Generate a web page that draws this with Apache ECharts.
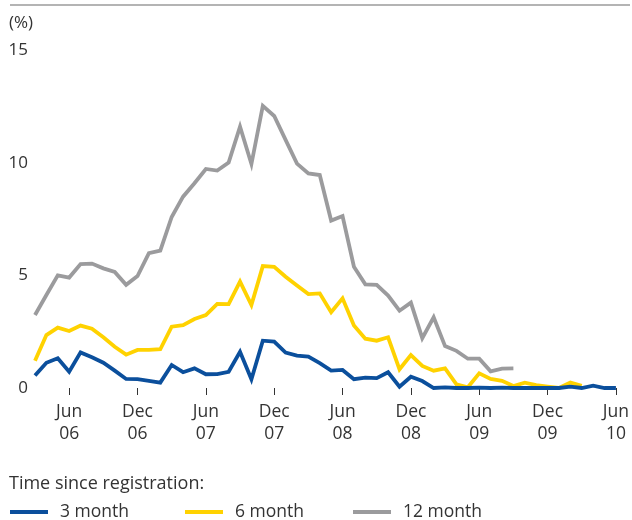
<!DOCTYPE html>
<html>
<head>
<meta charset="utf-8">
<script src="https://cdn.jsdelivr.net/npm/echarts@6/dist/echarts.min.js"></script>
<style>
html,body{margin:0;padding:0;background:#fff;}
#chart{width:632px;height:520px;}
</style>
</head>
<body>
<div id="chart"></div>
<script>
const months = [
  'Mar 06','Apr 06','May 06','Jun 06','Jul 06','Aug 06','Sep 06','Oct 06','Nov 06','Dec 06',
  'Jan 07','Feb 07','Mar 07','Apr 07','May 07','Jun 07','Jul 07','Aug 07','Sep 07','Oct 07','Nov 07','Dec 07',
  'Jan 08','Feb 08','Mar 08','Apr 08','May 08','Jun 08','Jul 08','Aug 08','Sep 08','Oct 08','Nov 08','Dec 08',
  'Jan 09','Feb 09','Mar 09','Apr 09','May 09','Jun 09','Jul 09','Aug 09','Sep 09','Oct 09','Nov 09','Dec 09',
  'Jan 10','Feb 10','Mar 10','Apr 10','May 10','Jun 10'
];
const yTicks = [0, 5, 10, 15];
const seriesNames = ['3 month', '6 month', '12 month'];

const month3 = [
  0.55,1.12,1.32,0.72,1.58,1.36,1.12,0.77,0.40,0.39,
  0.32,0.24,1.02,0.70,0.87,0.61,0.62,0.72,1.61,0.39,2.10,2.06,
  1.57,1.44,1.39,1.10,0.77,0.80,0.39,0.46,0.44,0.70,0.06,0.50,
  0.31,0.00,0.03,0.00,0.00,0.02,0.00,0.02,0.00,0.00,0.00,0.00,
  0.00,0.06,0.00,0.10,0.00,0.00
];
const month6 = [
  1.21,2.35,2.68,2.53,2.77,2.63,2.25,1.83,1.48,1.69,
  1.69,1.72,2.72,2.79,3.06,3.24,3.73,3.72,4.72,3.68,5.41,5.38,
  4.94,4.55,4.17,4.20,3.36,3.98,2.77,2.19,2.10,2.25,0.83,1.46,
  0.98,0.77,0.87,0.16,0.03,0.65,0.40,0.32,0.09,0.24,0.13,0.06,
  0.00,0.24,0.10
];
const month12 = [
  3.24,4.13,5.00,4.90,5.50,5.52,5.31,5.15,4.58,4.97,
  5.98,6.10,7.59,8.49,9.09,9.72,9.65,10.00,11.60,9.94,12.52,12.07,
  11.01,9.96,9.52,9.45,7.43,7.63,5.38,4.60,4.58,4.10,3.43,3.79,
  2.21,3.14,1.86,1.65,1.30,1.30,0.74,0.86,0.87
];

const colors = ['#0b4f9c', '#ffd200', '#9b9b9d'];
const FONT = '"Open Sans", sans-serif';
const TXT = '#333';

const showMonth = (idx, val) => /^(Jun|Dec)/.test(val);

const chart = echarts.init(document.getElementById('chart'), null, {renderer: 'canvas'});

const legendLefts = [10, 185, 353];

chart.setOption({
  animation: false,
  backgroundColor: '#fff',
  title: [
    {text: '(%)', left: 9, top: 15, padding: 0,
     textStyle: {fontFamily: FONT, fontSize: 17, fontWeight: 'normal', color: TXT}},
    {text: 'Time since registration:', left: 9, top: 475, padding: 0,
     textStyle: {fontFamily: FONT, fontSize: 18, fontWeight: 'normal', color: TXT}}
  ],
  graphic: [
    {type: 'line', shape: {x1: 10, y1: 5, x2: 630, y2: 5},
     style: {stroke: '#b4b4b4', lineWidth: 2}}
  ],
  legend: seriesNames.map((n, i) => ({
    data: [n],
    left: legendLefts[i],
    top: 503,
    padding: 0,
    icon: 'rect',
    itemWidth: 38,
    itemHeight: 4,
    textStyle: {fontFamily: FONT, fontSize: 17.5, color: TXT, padding: [0, 0, 0, 7]}
  })),
  grid: {left: 35, right: 12, top: 50, bottom: 132, containLabel: false},
  xAxis: {
    type: 'category',
    data: months,
    boundaryGap: false,
    offset: 2,
    axisLine: {show: false},
    axisTick: {show: true, interval: showMonth, length: 7, lineStyle: {color: '#333', width: 1}},
    axisLabel: {
      interval: showMonth,
      formatter: v => v.replace(' ', '\n'),
      fontFamily: FONT, fontSize: 17.5, color: TXT, lineHeight: 22, margin: 11
    },
    splitLine: {show: false}
  },
  yAxis: {
    type: 'value',
    min: yTicks[0],
    max: yTicks[yTicks.length - 1],
    interval: yTicks[1] - yTicks[0],
    axisLine: {show: false},
    axisTick: {show: false},
    splitLine: {show: false},
    axisLabel: {fontFamily: FONT, fontSize: 17, color: TXT, margin: 7}
  },
  series: [month3, month6, month12].map((d, i) => ({
    name: seriesNames[i],
    type: 'line',
    data: d,
    showSymbol: false,
    symbol: 'none',
    clip: false,
    color: colors[i],
    lineStyle: {color: colors[i], width: 3.8, join: 'miter'},
    z: 3 - i
  }))
});
</script>
</body>
</html>
